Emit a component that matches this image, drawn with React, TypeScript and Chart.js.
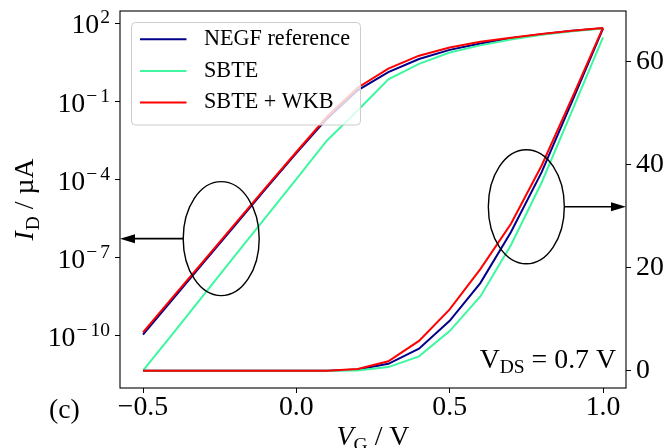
import { useEffect, useRef } from "react";
import { Chart, registerables } from "chart.js";

Chart.register(...registerables);

// Gate voltage sweep (V)
const VG = [-0.5, -0.4, -0.3, -0.2, -0.1, 0.0, 0.1, 0.2, 0.3, 0.4, 0.5, 0.6, 0.7, 0.8, 0.9, 1.0];

// Drain current (µA) for each transport model
const ID_NEGF = [1.1e-10, 2.8e-9, 7.0e-8, 1.75e-6, 4.4e-5, 1.05e-3, 2.2e-2, 0.27, 1.35, 4.3, 9.7, 17.0, 26.9, 38.5, 52.3, 66.3];
const ID_SBTE = [4.5e-12, 1.3e-10, 4.0e-9, 1.2e-7, 3.5e-6, 1.05e-4, 3.2e-3, 4.5e-2, 0.72, 2.8, 7.7, 14.4, 24.4, 36.5, 50.5, 64.6];
const ID_WKB = [1.35e-10, 3.3e-9, 8.1e-8, 2.0e-6, 4.9e-5, 1.15e-3, 2.6e-2, 0.34, 1.85, 5.8, 11.9, 19.7, 28.5, 39.8, 53.0, 66.5];

const SERIES_NAMES = ["NEGF reference", "SBTE", "SBTE + WKB"];
const SERIES_COLORS = ["#00008b", "#3ef7a0", "#ff0000"];

// Axis ticks
const X_TICKS = [-0.5, 0.0, 0.5, 1.0];
const LOG_TICK_EXPONENTS = [2, -1, -4, -7, -10];
const LIN_TICKS = [0, 20, 40, 60];

// Axis ranges
const X_MIN = -0.575;
const X_MAX = 1.075;
const LOG_MIN = Math.pow(10, -12.01);
const LOG_MAX = Math.pow(10, 2.48);
const LIN_MIN = -3.33;
const LIN_MAX = 69.73;

// Ellipse markers grouping the curves, with arrows to their axis
const LOG_GROUP = { vg: -0.245, id: Math.pow(10, -6.27) };
const LIN_GROUP = { vg: 0.75, id: 31.8 };

const FONT = '"Liberation Serif", "Times New Roman", serif';
const FS = 27.8;
const FS_SUB = 19.5;
const FS_LEGEND = 22.2;

type Part = { t: string; size: number; italic?: boolean; dy?: number; gap?: number };

function fontOf(p: Part) {
  return `${p.italic ? "italic " : ""}${p.size}px ${FONT}`;
}

function richWidth(ctx: CanvasRenderingContext2D, parts: Part[]) {
  let w = 0;
  for (const p of parts) {
    ctx.font = fontOf(p);
    w += ctx.measureText(p.t).width + (p.gap || 0);
  }
  return w;
}

function drawRich(
  ctx: CanvasRenderingContext2D,
  parts: Part[],
  x: number,
  y: number,
  align: "left" | "center" | "right"
) {
  const w = richWidth(ctx, parts);
  let cx = align === "center" ? x - w / 2 : align === "right" ? x - w : x;
  ctx.textAlign = "left";
  ctx.textBaseline = "alphabetic";
  for (const p of parts) {
    ctx.font = fontOf(p);
    ctx.fillText(p.t, cx, y + (p.dy || 0));
    cx += ctx.measureText(p.t).width + (p.gap || 0);
  }
}

function drawArrow(ctx: CanvasRenderingContext2D, x0: number, x1: number, y: number) {
  const dir = Math.sign(x1 - x0);
  const head = 15;
  const half = 4.5;
  ctx.beginPath();
  ctx.moveTo(x0, y);
  ctx.lineTo(x1 - dir * head, y);
  ctx.lineWidth = 1.6;
  ctx.strokeStyle = "#000";
  ctx.stroke();
  ctx.beginPath();
  ctx.moveTo(x1, y);
  ctx.lineTo(x1 - dir * head, y - half);
  ctx.lineTo(x1 - dir * head, y + half);
  ctx.closePath();
  ctx.fillStyle = "#000";
  ctx.fill();
}

const decorPlugin = {
  id: "decor",
  afterDraw(chart: any) {
    const ctx: CanvasRenderingContext2D = chart.ctx;
    const area = chart.chartArea;
    const xs = chart.scales.x;
    const yLog = chart.scales.yLog;
    const yLin = chart.scales.yLin;
    ctx.save();

    // Ellipses and arrows
    const rx = 38;
    const ry = 57;
    const lx = xs.getPixelForValue(LOG_GROUP.vg);
    const ly = yLog.getPixelForValue(LOG_GROUP.id);
    const rxp = xs.getPixelForValue(LIN_GROUP.vg);
    const ryp = yLin.getPixelForValue(LIN_GROUP.id);
    ctx.strokeStyle = "#000";
    ctx.lineWidth = 1.4;
    ctx.beginPath();
    ctx.ellipse(lx, ly, rx, ry, 0, 0, Math.PI * 2);
    ctx.stroke();
    ctx.beginPath();
    ctx.ellipse(rxp, ryp, rx, ry, 0, 0, Math.PI * 2);
    ctx.stroke();
    drawArrow(ctx, lx - rx, area.left, ly);
    drawArrow(ctx, rxp + rx, area.right, ryp);

    // Legend
    const bx = area.left + 11.5;
    const by = area.top + 11.5;
    const bw = 229;
    const bh = 102.5;
    ctx.beginPath();
    ctx.roundRect(bx, by, bw, bh, 4);
    ctx.fillStyle = "rgba(255,255,255,0.8)";
    ctx.fill();
    ctx.strokeStyle = "#cccccc";
    ctx.lineWidth = 1;
    ctx.stroke();
    SERIES_NAMES.forEach((name, i) => {
      const ry2 = by + 16.8 + i * 31.6;
      ctx.beginPath();
      ctx.moveTo(bx + 8.5, ry2);
      ctx.lineTo(bx + 55, ry2);
      ctx.strokeStyle = SERIES_COLORS[i];
      ctx.lineWidth = 2;
      ctx.stroke();
      ctx.fillStyle = "#000";
      ctx.font = `${FS_LEGEND}px ${FONT}`;
      ctx.textAlign = "left";
      ctx.textBaseline = "middle";
      ctx.fillText(name, bx + 72.5, ry2);
    });

    ctx.fillStyle = "#000";

    // Left (logarithmic) tick labels: 10^n
    for (const k of LOG_TICK_EXPONENTS) {
      const y = yLog.getPixelForValue(Math.pow(10, k));
      const parts: Part[] = [{ t: "10", size: FS, gap: 1 }];
      if (k < 0) {
        parts.push({ t: "\u2212", size: FS_SUB, dy: -10, gap: 3 });
        parts.push({ t: String(-k), size: FS_SUB, dy: -10 });
      } else {
        parts.push({ t: String(k), size: FS_SUB, dy: -10 });
      }
      drawRich(ctx, parts, area.left - 10, y + 10, "right");
    }

    // Axis titles
    ctx.save();
    ctx.translate(33, (area.top + area.bottom) / 2);
    ctx.rotate(-Math.PI / 2);
    drawRich(
      ctx,
      [
        { t: "I", size: FS, italic: true, gap: 1 },
        { t: "D", size: FS_SUB, dy: 5.5 },
        { t: " / \u00b5A", size: FS },
      ],
      0,
      0,
      "center"
    );
    ctx.restore();
    drawRich(
      ctx,
      [
        { t: "V", size: FS, italic: true },
        { t: "G", size: FS_SUB, dy: 5.5 },
        { t: " / V", size: FS },
      ],
      (area.left + area.right) / 2,
      445,
      "center"
    );

    // Bias annotation and panel tag
    drawRich(
      ctx,
      [
        { t: "V", size: FS },
        { t: "DS", size: FS_SUB, dy: 5 },
        { t: " = 0.7 V", size: FS },
      ],
      area.right - 10,
      area.bottom - 20,
      "right"
    );
    drawRich(ctx, [{ t: "(c)", size: FS }], 49, 418, "left");

    // Frame
    ctx.strokeStyle = "#000";
    ctx.lineWidth = 1.1;
    ctx.strokeRect(area.left, area.top, area.right - area.left, area.bottom - area.top);
    ctx.restore();
  },
};

function fmtX(v: number) {
  return v < 0 ? "\u2212" + Math.abs(v).toFixed(1) : v.toFixed(1);
}

export default function App() {
  const canvasRef = useRef<HTMLCanvasElement | null>(null);

  useEffect(() => {
    const canvas = canvasRef.current;
    if (!canvas) return;

    const series = [ID_NEGF, ID_SBTE, ID_WKB];
    const datasets: any[] = [];
    series.forEach((vals, i) => {
      const pts = VG.map((v, j) => ({ x: v, y: vals[j] }));
      datasets.push({
        label: SERIES_NAMES[i],
        data: pts,
        yAxisID: "yLog",
        borderColor: SERIES_COLORS[i],
        backgroundColor: SERIES_COLORS[i],
        borderWidth: 2,
        pointRadius: 0,
        showLine: true,
        fill: false,
        order: 5 - i,
      });
    });
    series.forEach((vals, i) => {
      const pts = VG.map((v, j) => ({ x: v, y: vals[j] }));
      datasets.push({
        label: SERIES_NAMES[i] + " (linear)",
        data: pts,
        yAxisID: "yLin",
        borderColor: SERIES_COLORS[i],
        backgroundColor: SERIES_COLORS[i],
        borderWidth: 2,
        pointRadius: 0,
        showLine: true,
        fill: false,
        order: 2 - i,
      });
    });

    const tickGrid = {
      drawOnChartArea: false,
      drawTicks: true,
      tickLength: 5,
      color: "#000",
      lineWidth: 1,
    };

    const chart = new Chart(canvas, {
      type: "scatter",
      data: { datasets },
      plugins: [decorPlugin],
      options: {
        animation: false,
        responsive: false,
        devicePixelRatio: 1,
        layout: { padding: { top: 11, left: 0, right: 0, bottom: 0 } },
        plugins: {
          legend: { display: false },
          tooltip: { enabled: false },
        },
        scales: {
          x: {
            type: "linear",
            min: X_MIN,
            max: X_MAX,
            afterBuildTicks: (s: any) => {
              s.ticks = X_TICKS.map((value) => ({ value }));
            },
            afterFit: (s: any) => {
              s.height = 60;
              s.paddingLeft = 0;
              s.paddingRight = 0;
            },
            grid: tickGrid,
            border: { display: false },
            ticks: {
              color: "#000",
              font: { family: FONT, size: FS, lineHeight: 1 },
              padding: 1,
              maxRotation: 0,
              autoSkip: false,
              callback: (v: any) => fmtX(Number(v)),
            },
          },
          yLog: {
            type: "logarithmic",
            position: "left",
            min: LOG_MIN,
            max: LOG_MAX,
            afterBuildTicks: (s: any) => {
              s.ticks = LOG_TICK_EXPONENTS.map((k) => ({ value: Math.pow(10, k) }));
            },
            afterFit: (s: any) => {
              s.width = 120;
              s.paddingTop = 0;
              s.paddingBottom = 0;
            },
            grid: tickGrid,
            border: { display: false },
            ticks: { display: false },
          },
          yLin: {
            type: "linear",
            position: "right",
            min: LIN_MIN,
            max: LIN_MAX,
            afterBuildTicks: (s: any) => {
              s.ticks = LIN_TICKS.map((value) => ({ value }));
            },
            afterFit: (s: any) => {
              s.width = 44;
              s.paddingTop = 0;
              s.paddingBottom = 0;
            },
            grid: tickGrid,
            border: { display: false },
            ticks: {
              color: "#000",
              font: { family: FONT, size: FS, lineHeight: 1 },
              padding: 5,
              autoSkip: false,
              callback: (v: any) => String(v),
            },
          },
        },
      } as any,
    });

    return () => chart.destroy();
  }, []);

  return (
    <div style={{ position: "fixed", left: 0, top: 0, width: 670, height: 448, background: "#fff" }}>
      <canvas ref={canvasRef} width={670} height={448} />
    </div>
  );
}
